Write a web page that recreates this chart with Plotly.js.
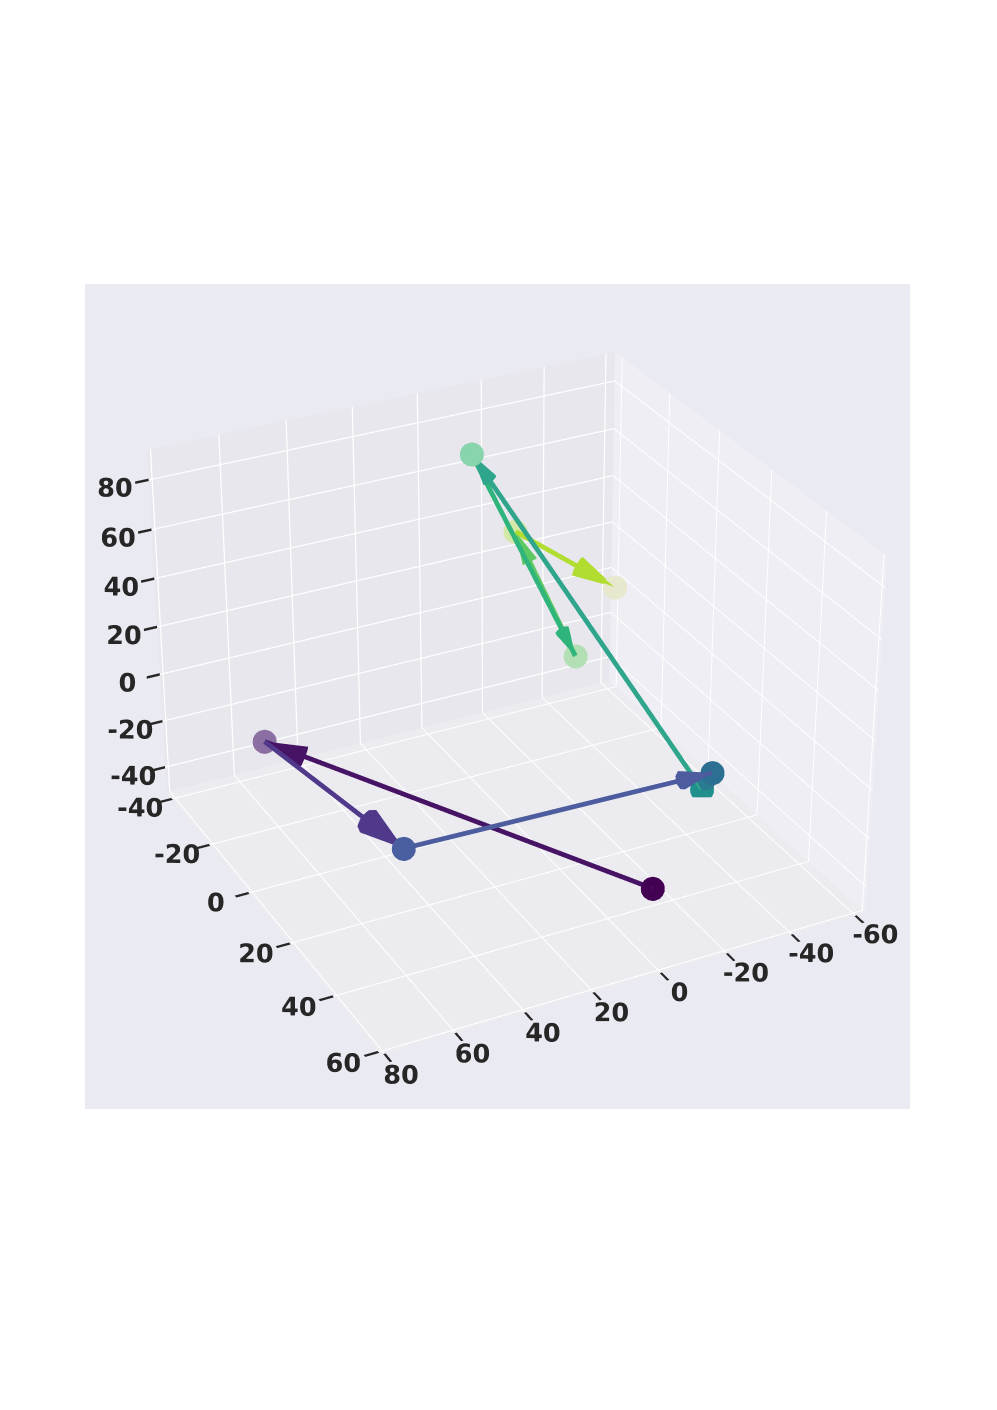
<!DOCTYPE html>
<html>
<head>
<meta charset="utf-8">
<script src="https://cdn.plot.ly/plotly-3.0.1.min.js"></script>
<style>
html,body{margin:0;padding:0;background:#fff;width:997px;height:1410px;overflow:hidden}
#chart{position:absolute;left:7px;top:-719px;width:997px;height:2800px}
</style>
</head>
<body>
<div id="chart"></div>
<script>
// points along the path
const xs = [-15.2, 68.4, 53.7, -48.6, -54.5, 0.3, -23.9, -15.2, -34.2];
const ys = [38, -11, 30, 19, 8, -18, -6.5, -21, -4];
const zs = [-46.3, -2.7, -11.7, -28.5, -48.6, 86.6, 5.9, 48.3, 33.6];

const pointColors = ['#440154', '#8b6fa3', '#4a5f9f', '#2c6f92', '#21908c', '#88d4ad', '#b2dfb3', '#d6e8a8', '#e8e8cf'];
const arrowColors = ['#471365', '#50388a', '#4c5c9e', '#2a7b90', '#2fa58c', '#2fb47c', '#5ec962', '#b0dd2f'];

const xTicks = [-60, -40, -20, 0, 20, 40, 60, 80];
const yTicks = [-40, -20, 0, 20, 40, 60];
const zTicks = [-40, -20, 0, 20, 40, 60, 80];

// figure is taller than the window so the 3d view gets a long lens
const figHeight = 2800;
const figTop = -719;
const figLeft = 7;

const data = [];
for (let i = 0; i < arrowColors.length; i++) {
    data.push({
        type: 'scatter3d',
        mode: 'lines',
        x: [xs[i], xs[i + 1]],
        y: [ys[i], ys[i + 1]],
        z: [zs[i], zs[i + 1]],
        line: {color: arrowColors[i], width: 9.5},
        hoverinfo: 'skip',
        showlegend: false
    });
    data.push({
        type: 'cone',
        x: [xs[i + 1]],
        y: [ys[i + 1]],
        z: [zs[i + 1]],
        u: [xs[i + 1] - xs[i]],
        v: [ys[i + 1] - ys[i]],
        w: [zs[i + 1] - zs[i]],
        anchor: 'tip',
        sizemode: 'absolute',
        sizeref: 11,
        colorscale: [[0, arrowColors[i]], [1, arrowColors[i]]],
        showscale: false,
        lighting: {ambient: 1, diffuse: 0, specular: 0, fresnel: 0},
        hoverinfo: 'skip'
    });
}
data.push({
    type: 'scatter3d',
    mode: 'markers',
    x: xs,
    y: ys,
    z: zs,
    marker: {size: 14, color: pointColors, line: {width: 0}},
    hoverinfo: 'skip',
    showlegend: false
});

function axis(range, ticks, wall) {
    return {
        range: range,
        tickvals: ticks,
        ticktext: ticks.map(String),
        tickangle: 0,
        ticks: 'outside',
        ticklen: 12,
        tickwidth: 5,
        tickcolor: '#262626',
        tickfont: {family: 'DejaVu Sans', size: 17.5, color: '#262626', weight: 'bold'},
        title: {text: ''},
        showgrid: true,
        gridcolor: '#ffffff',
        gridwidth: 2.5,
        zeroline: false,
        showline: false,
        showspikes: false,
        showbackground: true,
        backgroundcolor: wall
    };
}

const layout = {
    width: 997,
    height: figHeight,
    margin: {l: 0, r: 0, t: 0, b: 0},
    paper_bgcolor: '#ffffff',
    showlegend: false,
    shapes: [{
        type: 'rect',
        xref: 'paper',
        yref: 'paper',
        x0: (85 - figLeft) / 997,
        x1: (910 - figLeft) / 997,
        y0: 1 - (1109 - figTop) / figHeight,
        y1: 1 - (284 - figTop) / figHeight,
        fillcolor: '#eaeaf2',
        line: {width: 0},
        layer: 'below'
    }],
    scene: {
        domain: {x: [0, 1], y: [0, 1]},
        bgcolor: 'rgba(0,0,0,0)',
        aspectmode: 'manual',
        aspectratio: {x: 1, y: 1, z: 0.75},
        camera: {
            eye: {x: 2.508, y: 4.924, z: 3.089},
            center: {x: 0, y: 0, z: 0},
            up: {x: 0, y: 0, z: 1}
        },
        xaxis: axis([-63, 81], xTicks, '#eeeef4'),
        yaxis: axis([-43, 61], yTicks, '#e7e7ed'),
        zaxis: axis([-51, 92], zTicks, '#ebebf0')
    }
};

Plotly.newPlot('chart', data, layout, {displayModeBar: false});
</script>
</body>
</html>
